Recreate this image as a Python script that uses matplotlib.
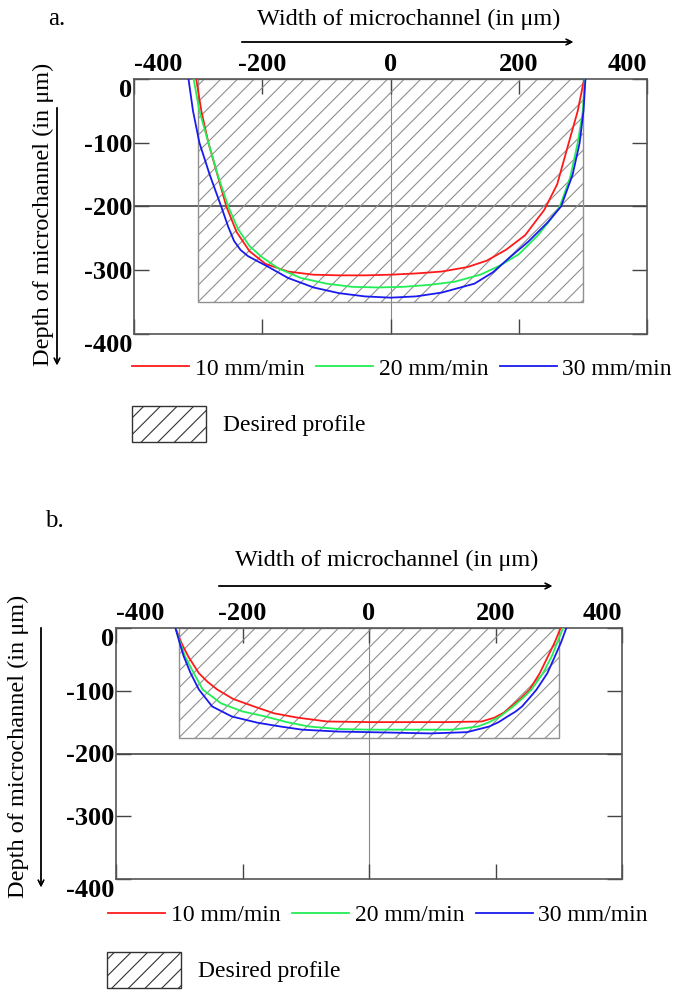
import matplotlib.pyplot as plt
from matplotlib.patches import Rectangle

# ---- data (width in um, depth in um) ----
# panel a
xa_10 = [-303, -295, -284, -270, -256, -240, -220, -195, -160, -120, -80, -40, 0,
         40, 80, 120, 150, 180, 210, 240, 260, 278, 292, 302]
ya_10 = [0, -50, -100, -150, -200, -240, -270, -290, -302, -307, -308, -308, -307,
         -305, -302, -295, -285, -268, -245, -205, -165, -100, -50, 0]
xa_20 = [-307, -298, -284, -268, -253, -238, -220, -201, -175, -140, -100, -60, -20,
         20, 60, 100, 140, 170, 200, 230, 250, 264, 280, 292, 300, 303]
ya_20 = [0, -50, -100, -155, -200, -235, -262, -279, -297, -312, -321, -326, -327,
         -326, -323, -318, -307, -293, -275, -245, -220, -200, -155, -100, -50, 0]
xa_30 = [-315, -308, -298, -282, -264, -253, -244, -234, -222, -209, -190, -160, -120,
         -80, -40, 0, 40, 80, 131, 160, 187, 215, 245, 266, 284, 295, 301, 304]
ya_30 = [0, -50, -100, -150, -200, -232, -254, -268, -278, -285, -295, -312, -327,
         -336, -341, -343, -341, -335, -321, -303, -279, -255, -225, -200, -150, -100,
         -50, 0]
desired_a = (-300, 300, -350)   # left, right, bottom

# panel b
xb_10 = [-306, -296, -286, -269, -255, -240, -215, -182, -150, -112, -66, 0, 60, 120,
         178, 198, 213, 225, 240, 254, 270, 283, 294, 303]
yb_10 = [0, -25, -45, -72, -86, -98, -113, -125, -136, -143, -149, -150, -150, -150,
         -149, -143, -135, -125, -112, -98, -72, -45, -22, 0]
xb_20 = [-306, -298, -291, -277, -263, -234, -200, -164, -130, -95, -48, 0, 60, 132,
         172, 190, 207, 228, 245, 257, 275, 289, 298, 307]
yb_20 = [0, -25, -45, -72, -98, -120, -133, -141, -150, -157, -161, -162, -162, -162,
         -157, -150, -141, -125, -110, -98, -72, -45, -22, 0]
xb_30 = [-306, -299, -293, -282, -269, -248, -217, -176, -140, -106, -50, 0, 50, 97,
         155, 190, 205, 219, 232, 242, 255, 265, 282, 294, 304, 312]
yb_30 = [0, -25, -45, -72, -98, -125, -141, -151, -157, -162, -165, -166, -167, -168,
         -166, -157, -150, -141, -133, -125, -110, -98, -72, -45, -22, 0]
desired_b = (-300, 300, -175)

speeds = ['10 mm/min', '20 mm/min', '30 mm/min']
colors = ['#ff1a1a', '#22ee55', '#1a1aee']
xticks = [-400, -200, 0, 200, 400]
yticks = [-400, -300, -200, -100, 0]

W, H = 676, 996
plt.rcParams['font.family'] = 'Liberation Serif'
plt.rcParams['axes.unicode_minus'] = False
plt.rcParams['hatch.linewidth'] = 0.8


def fx(x):
    return x / W


def fy(y):
    return 1 - y / H


fig = plt.figure(figsize=(W / 100, H / 100), dpi=100)


def panel(box, curves, desired, tag, tag_xy, title_xy, arrow_x, ylab_xy, arrow_y,
          leg_y, box_y):
    l, t, r, b = box
    ax = fig.add_axes([fx(l), fy(b), (r - l) / W, (b - t) / H])
    ax.set_xlim(-400, 400)
    ax.set_ylim(-400, 0)

    ax.axvline(0, color='#888888', lw=0.8, zorder=1)
    ax.axhline(-200, color='#555555', lw=1.3, zorder=1)
    x0, x1, y0 = desired
    ax.add_patch(Rectangle((x0, y0), x1 - x0, -y0, facecolor='none',
                           edgecolor='#909090', hatch='//', lw=1.0, zorder=2))
    handles = []
    for (xs, ys), c, lab in zip(curves, colors, speeds):
        h, = ax.plot(xs, ys, color=c, lw=1.3, label=lab, zorder=3)
        handles.append(h)

    ax.set_xticks(xticks)
    ax.set_yticks(yticks)
    ax.tick_params(direction='in', length=11, width=1, color='#444444',
                   top=True, bottom=True, left=True, right=True,
                   labeltop=True, labelbottom=False, labelsize=19)
    ax.tick_params(axis='x', pad=2)
    ax.tick_params(axis='y', pad=1)
    for lb in ax.get_xticklabels() + ax.get_yticklabels():
        lb.set_fontweight('bold')
    xl = ax.get_xticklabels()
    xl[0].set_ha('left')
    xl[-1].set_ha('right')
    yl = ax.get_yticklabels()
    yl[0].set_va('top')
    yl[-1].set_va('top')
    for s in ax.spines.values():
        s.set_color('#555555')
        s.set_linewidth(1.2)

    fig.text(fx(tag_xy[0]), fy(tag_xy[1]), tag, fontsize=18, va='center')
    fig.text(fx(title_xy[0]), fy(title_xy[1]), 'Width of microchannel (in \u03bcm)',
             fontsize=17.5, ha='center', va='center')
    fig.add_artist(plt.annotate('', xy=(fx(arrow_x[1]), fy(arrow_x[2])),
                                xytext=(fx(arrow_x[0]), fy(arrow_x[2])),
                                xycoords='figure fraction',
                                arrowprops=dict(arrowstyle='->', lw=1, color='black')))
    fig.text(fx(ylab_xy[0]), fy(ylab_xy[1]), 'Depth of microchannel (in \u03bcm)',
             fontsize=17.5, ha='center', va='center', rotation=90)
    fig.add_artist(plt.annotate('', xy=(fx(arrow_y[0]), fy(arrow_y[2])),
                                xytext=(fx(arrow_y[0]), fy(arrow_y[1])),
                                xycoords='figure fraction',
                                arrowprops=dict(arrowstyle='->', lw=1, color='black')))

    fig.legend(handles=handles, loc='center left', ncol=3,
               bbox_to_anchor=(fx(leg_y[0]), fy(leg_y[1])),
               frameon=False, fontsize=17, handlelength=2.4,
               handletextpad=0.25, columnspacing=0.5, borderpad=0,
               borderaxespad=0)
    hatch_h = Rectangle((0, 0), 1, 1, facecolor='none', edgecolor='#909090',
                        hatch='//', lw=1.0)
    leg2 = fig.legend(handles=[hatch_h], labels=['Desired profile'], loc='center left',
                      bbox_to_anchor=(fx(box_y[0]), fy(box_y[1])),
                      frameon=False, fontsize=17, handlelength=3.15,
                      handleheight=2.0, handletextpad=0.7, borderpad=0,
                      borderaxespad=0)
    leg2.get_patches()[0].set_edgecolor('#333333')
    return ax


panel((134, 79, 647, 334),
      [(xa_10, ya_10), (xa_20, ya_20), (xa_30, ya_30)], desired_a,
      'a.', (48, 19), (409, 19), (239, 576, 42), (43, 214), (57, 105, 368),
      (132, 369), (132, 424))
panel((116, 628, 622, 879),
      [(xb_10, yb_10), (xb_20, yb_20), (xb_30, yb_30)], desired_b,
      'b.', (45, 521), (387, 560), (216, 555, 586), (18, 746), (41, 625, 890),
      (108, 915), (107, 970))

fig.savefig('out.png', dpi=100)
